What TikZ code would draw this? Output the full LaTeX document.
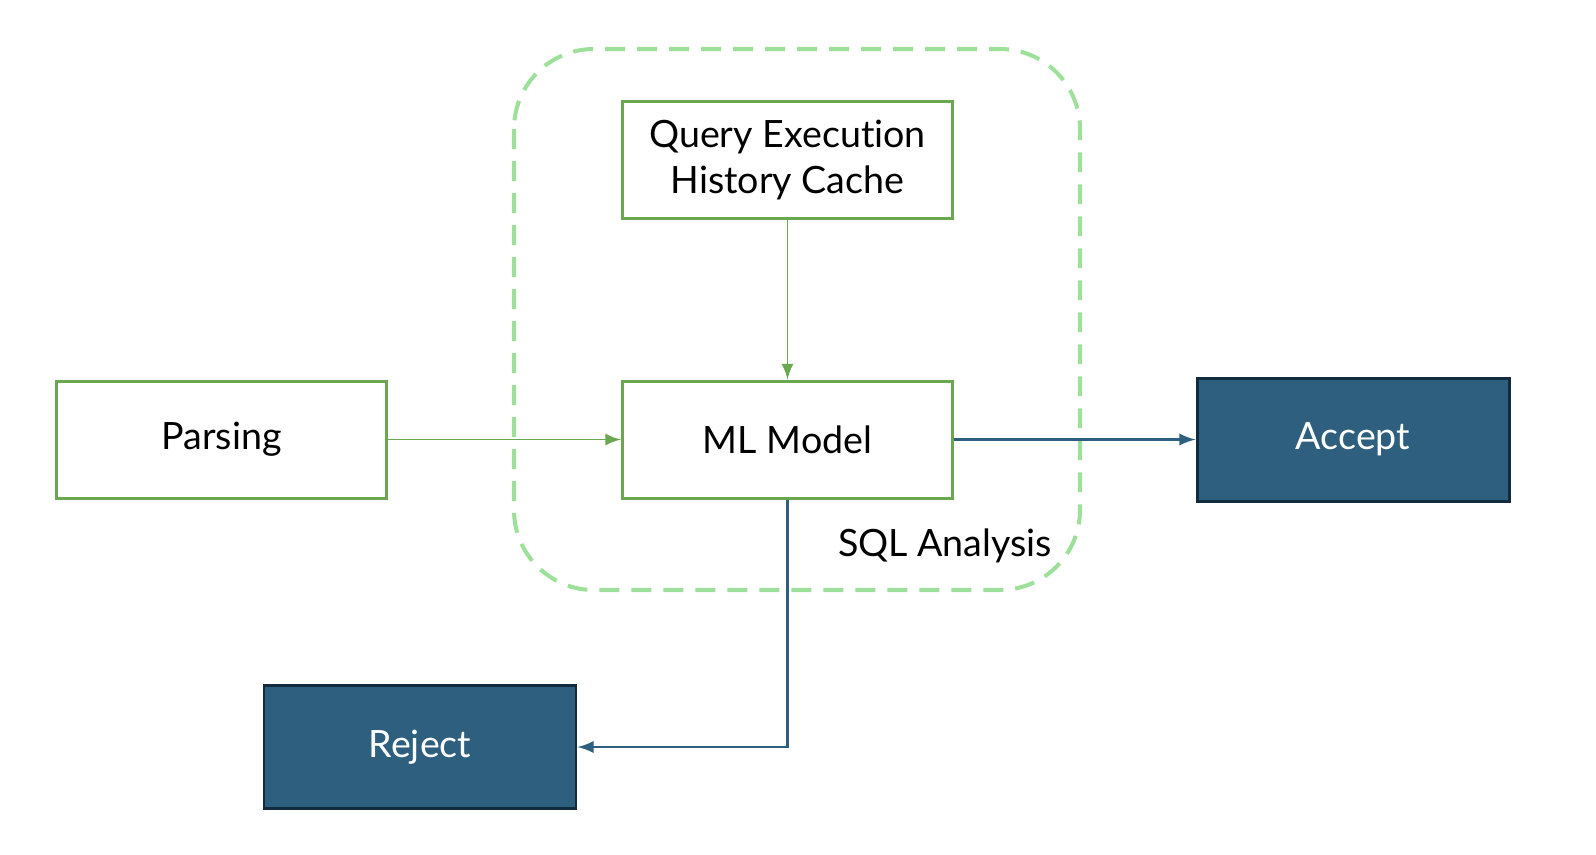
\documentclass[tikz,border=0pt]{standalone}
\usepackage{fontspec}
\setmainfont{Lato}[Ligatures=NoCommon]
\usepackage{xcolor}
\usepackage{tikz}
\usetikzlibrary{arrows}
\usetikzlibrary{calc}
\definecolor{boxgreen}{HTML}{6AA84F}
\definecolor{dashgreen}{HTML}{9DE09A}
\definecolor{boxblue}{HTML}{2E5F7F}
\definecolor{boxedge}{HTML}{132B3E}

\begin{document}
\begin{tikzpicture}[
    greenbox/.style={draw=boxgreen, line width=0.85pt, fill=white, minimum width=3.3cm, minimum height=1.17cm, inner sep=0pt, align=center, font=\fontsize{10.7}{13.1}\selectfont},
    bluebox/.style={draw=boxedge, line width=0.85pt, fill=boxblue, text=white, minimum width=3.12cm, minimum height=1.23cm, inner sep=0pt, font=\fontsize{10.7}{13.1}\selectfont},
    greenline/.style={boxgreen, line width=0.55pt, -latex},
    blueline/.style={boxblue, line width=0.6pt, -latex}]
   \useasboundingbox (0,0) rectangle (15.96,-8.54);

   % the SQL analysis group
   \draw[dashgreen, line width=1.15pt, dash pattern=on 0.2cm off 0.12cm, rounded corners=0.8cm] (5.14,-0.49) rectangle (10.80,-5.90);
   \node (sqllbl) at (9.45,-5.46) {\fontsize{10.7}{13.1}\selectfont SQL Analysis};

   \node[greenbox] (cache) at (7.875,-1.60) {Query Execution\\History Cache};
   \node[greenbox] (model) at (7.875,-4.395) {ML Model};
   \node[greenbox] (parse) at (2.215,-4.395) {Parsing};
   \node[bluebox] (accept) at (13.53,-4.395) {Accept};
   \node[bluebox] (reject) at (4.20,-7.47) {Reject};

   \draw[greenline] (parse) -- (model);
   \draw[greenline] (cache) -- (model);
   \draw[blueline] (model) -- (accept);
   \draw[blueline] (model.south) |- (reject.east);
\end{tikzpicture}
\end{document}
